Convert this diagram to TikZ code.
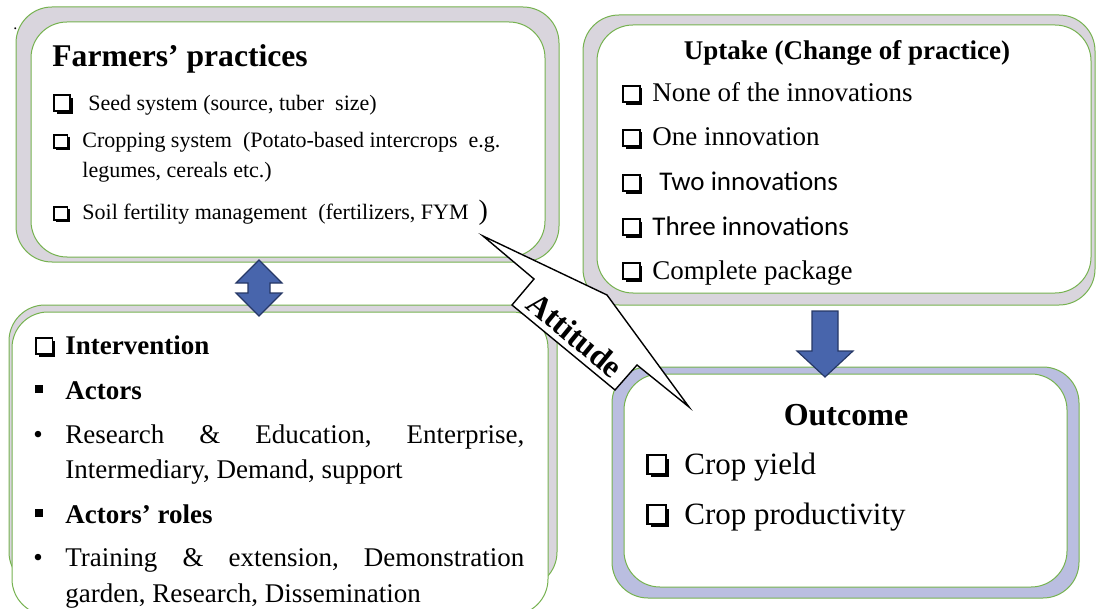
\documentclass[tikz,border=0pt]{standalone}
\usepackage{fontspec}
\setmainfont{Liberation Serif}
\newfontfamily\calibri{Carlito}
\usepackage{xcolor}
\usepackage{tikz}
\usetikzlibrary{arrows.meta}
\usetikzlibrary{positioning}

\definecolor{aro}{RGB}{217,213,221}
\definecolor{arolila}{RGB}{186,190,224}
\definecolor{verde}{RGB}{118,178,80}
\definecolor{azul}{RGB}{72,101,172}
\definecolor{azuloscuro}{RGB}{38,56,102}

% casilla con sombra y tamaño de letra
\newcommand{\chk}{\tikz[baseline=0pt, x=1em, y=1em]{\fill (0.1,-0.1) rectangle (0.7,0.5); \filldraw[fill=white, line width=0.07em] (0,0) rectangle (0.6,0.6);}}
\newcommand{\fs}[1]{\fontsize{#1pt}{#1pt}\selectfont}

\begin{document}
\begin{tikzpicture}[x=0.5pt, y=-0.5pt,
    marco/.style={draw=verde, line width=0.5pt, rounded corners=18pt},
    anillo/.style={marco, fill=aro},
    panel/.style={marco, fill=white},
    flecha/.style={draw=azuloscuro, fill=azul, line width=0.6pt, line join=miter},
    txt/.style={anchor=base west, inner sep=0pt},
    titulo/.style={anchor=base, inner sep=0pt}
]
\useasboundingbox (0,0) rectangle (1096,609);
\clip (0,0) rectangle (1096,609);

% Prácticas de los agricultores
\draw[anillo] (16,7) rectangle (559,262);
\draw[panel] (31,22) rectangle (545,257);

% Adopción
\draw[anillo] (583,15) rectangle (1095,305);
\draw[panel] (597,25) rectangle (1091,293);

% Intervención
\draw[anillo] (9,305) rectangle (557,588);
\draw[panel] (12,312) rectangle (548,615);

% Resultado
\draw[anillo, fill=arolila] (612,367) rectangle (1079,598);
\draw[panel] (624,374) rectangle (1067,587);

% Flechas de bloque
\draw[flecha] (259,260) -- (282,283) -- (270,283) -- (270,293) -- (282,293) -- (259,316) -- (236,293) -- (248,293) -- (248,283) -- (236,283) -- cycle;
\draw[flecha] (812,311) -- (838,311) -- (838,351) -- (853,351) -- (825,377) -- (797,351) -- (812,351) -- cycle;

% Actitud
\draw[fill=white, line width=0.7pt, line join=miter] (483,236) -- (607,295) -- (689,407) -- (637,365) -- (615,390) -- (512,305) -- (534,279) -- cycle;
\node[font=\fs{16}\bfseries, rotate=-39.5] (actitud) at (575,335) {Attitude};

% Textos
\node[txt, font=\fs{8}] (pto) at (13,30) {.};

\node[txt, font=\fs{15.8}\bfseries] (fp) at (52,67) {Farmers’ practices};
\node[txt, font=\fs{11}] (fp1) at (53,111) {\makebox[17.5pt][l]{\fs{13}\chk}Seed system (source, tuber\ \ size)};
\node[txt, font=\fs{11}] (fp2) at (53,148) {\makebox[14.5pt][l]{\chk}Cropping system\ \ (Potato-based intercrops\ \ e.g.};
\node[txt, font=\fs{11}] (fp3) at (82,177) {legumes, cereals etc.)};
\node[txt, font=\fs{11}] (fp4) at (53,220) {\makebox[14.5pt][l]{\chk}Soil fertility management\ \ (fertilizers, FYM {\fs{14}\,)}};

\node[titulo, font=\fs{13.5}\bfseries] (up) at (847,60) {Uptake (Change of practice)};
\node[txt, font=\fs{13.5}] (up1) at (622,102) {\makebox[15pt][l]{\chk}None of the innovations};
\node[txt, font=\fs{13.5}] (up2) at (622,146) {\makebox[15pt][l]{\chk}One innovation};
\node[txt, font=\fs{13.5}] (up3) at (622,191) {\makebox[18.5pt][l]{\chk}\calibri Two innovations};
\node[txt, font=\fs{13.5}] (up4) at (622,235) {\makebox[15pt][l]{\chk}\calibri Three innovations};
\node[txt, font=\fs{13.5}] (up5) at (622,279) {\makebox[15pt][l]{\chk}Complete package};

\node[txt, font=\fs{13.5}\bfseries] (iv) at (35,354) {\makebox[15pt][l]{\chk}Intervention};
\node[txt, font=\fs{13.5}\bfseries] (iv1) at (35,399) {\makebox[15pt][l]{\rule[0.22em]{0.3em}{0.3em}}Actors};
\node[txt, font=\fs{13.5}] (iv2) at (33,443) {\makebox[16pt][l]{•}\makebox[229.5pt][s]{Research\hfill\&\hfill Education,\hfill Enterprise,}};
\node[txt, font=\fs{13.5}] (iv3) at (65,478) {Intermediary, Demand, support};
\node[txt, font=\fs{13.5}\bfseries] (iv4) at (35,523) {\makebox[15pt][l]{\rule[0.22em]{0.3em}{0.3em}}Actors’ roles};
\node[txt, font=\fs{13.5}] (iv5) at (33,566) {\makebox[16pt][l]{•}\makebox[229.5pt][s]{Training\hfill\&\hfill extension,\hfill Demonstration}};
\node[txt, font=\fs{13.5}] (iv6) at (65,602) {garden, Research, Dissemination};

\node[titulo, font=\fs{16}\bfseries] (oc) at (846,425) {Outcome};
\node[txt, font=\fs{15.5}] (oc1) at (646,474) {\makebox[19pt][l]{\chk}Crop yield};
\node[txt, font=\fs{15.5}] (oc2) at (646,524) {\makebox[19pt][l]{\chk}Crop productivity};

\end{tikzpicture}
\end{document}
